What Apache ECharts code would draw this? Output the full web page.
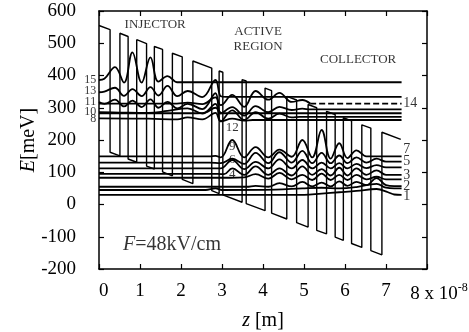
<!DOCTYPE html>
<html>
<head>
<meta charset="utf-8">
<script src="https://cdn.jsdelivr.net/npm/echarts@6/dist/echarts.min.js"></script>
<style>
  html, body { margin: 0; padding: 0; background: #fff; }
  #chart { width: 469px; height: 332px; }
</style>
</head>
<body>
<div id="chart"></div>
<script>
// z in units of 1e-8 m, E in meV

// conduction band corners (barrier tops / well floors)
const bandProfile = [
  [0, 555], [0.27, 542], [0.27, 162], [0.51, 151], [0.51, 531], [0.71, 521],
  [0.71, 141], [0.92, 131], [0.92, 511], [1.16, 499], [1.16, 119], [1.35, 110],
  [1.35, 490], [1.55, 481], [1.55, 101], [1.79, 89], [1.79, 469], [2.03, 458],
  [2.03, 78], [2.29, 65], [2.29, 445], [2.75, 423], [2.75, 43], [2.93, 34],
  [2.93, 414], [3.02, 410], [3.02, 30], [3.49, 7], [3.49, 387], [3.59, 383],
  [3.59, 3], [4.05, -19], [4.05, 361], [4.21, 353], [4.21, -27], [4.58, -45],
  [4.58, 335], [4.82, 324], [4.82, -56], [5.10, -70], [5.10, 310], [5.31, 300],
  [5.31, -80], [5.55, -91], [5.55, 289], [5.76, 279], [5.76, -101], [5.96, -111],
  [5.96, 269], [6.16, 259], [6.16, -121], [6.41, -133], [6.41, 247], [6.63, 237],
  [6.63, -143], [6.90, -156], [6.90, 224], [7.36, 202]
];

// wavefunctions drawn at their level energies
const psi15 = [[0, 386], [0.13, 390], [0.39, 426], [0.61, 378], [0.815, 472], [1.04, 378], [1.255, 456], [1.45, 381], [1.67, 398], [1.91, 379], [2.1, 379], [7.38, 379]];
const psi13 = [[0, 348], [0.13, 350], [0.39, 362], [0.61, 337], [0.815, 358], [1.04, 336], [1.255, 364], [1.45, 338], [1.67, 368], [1.91, 336], [2.16, 352], [2.52, 333], [2.84, 386], [2.97, 336], [3.1, 334], [3.3, 334], [7.38, 334]];
const psi14 = [[0, 313], [1.9, 313], [2.16, 316], [2.52, 311], [2.84, 332], [2.97, 308], [3.25, 340], [3.54, 303], [3.82, 352], [4.13, 325], [4.4, 346], [4.70, 318], [4.96, 324], [5.15, 313]];
const psi14tail = [[5.15, 313], [7.38, 313]];
const psi11 = [[0, 318], [0.13, 312], [0.39, 325], [0.61, 304], [0.815, 322], [1.04, 302], [1.255, 326], [1.45, 300], [1.67, 318], [1.91, 298], [2.16, 312], [2.52, 296], [2.84, 345], [2.97, 282], [3.25, 302], [3.54, 276], [3.82, 305], [4.13, 286], [4.4, 303], [4.70, 293], [4.96, 297], [5.15, 295], [7.38, 295]];
const psi12 = [[0, 283], [2.4, 283], [2.6, 285], [2.84, 300], [3.0, 283], [3.2, 283], [7.38, 283]];
const psi10 = [[0, 286], [0.5, 285], [1.2, 284], [1.67, 290], [2.16, 298], [2.52, 282], [2.84, 312], [2.97, 258], [3.25, 292], [3.54, 262], [3.82, 286], [4.13, 266], [4.4, 282], [4.70, 270], [4.9, 272], [7.38, 272]];
const psi8 = [[0, 267], [1.2, 266], [1.91, 264], [2.16, 270], [2.52, 264], [2.84, 284], [2.97, 258], [3.25, 266], [3.54, 260], [3.75, 262], [7.38, 262]];
const psi7 = [[0, 149], [2.7, 149], [2.84, 151], [2.97, 146], [3.25, 200], [3.54, 146], [3.82, 178], [4.13, 146], [4.4, 170], [4.70, 148], [4.96, 200], [5.2, 146], [5.43, 231], [5.65, 142], [5.86, 190], [6.06, 144], [6.28, 168], [6.52, 149], [6.7, 149], [7.38, 149]];
const psi5 = [[0, 130], [2.7, 130], [2.97, 128], [3.25, 142], [3.54, 126], [3.82, 160], [4.13, 128], [4.4, 162], [4.70, 130], [4.96, 166], [5.2, 128], [5.43, 160], [5.65, 128], [5.86, 152], [6.06, 128], [6.28, 146], [6.52, 130], [6.77, 142], [7.0, 133], [7.38, 133]];
const psi6 = [[0, 112], [2.8, 112], [2.97, 112], [3.25, 138], [3.54, 110], [3.82, 132], [4.13, 112], [4.4, 140], [4.70, 112], [4.96, 138], [5.2, 112], [5.43, 130], [5.65, 112], [5.86, 128], [6.06, 112], [6.28, 126], [6.52, 113], [6.77, 122], [7.0, 115], [7.38, 115]];
const psi3 = [[0, 95], [2.9, 95], [3.05, 94], [3.25, 112], [3.54, 92], [3.82, 118], [4.13, 92], [4.4, 112], [4.70, 90], [4.96, 118], [5.2, 92], [5.43, 110], [5.65, 90], [5.86, 114], [6.06, 90], [6.28, 112], [6.52, 92], [6.77, 106], [7.0, 92], [7.38, 92]];
const psi4 = [[0, 83], [3.2, 83], [3.54, 84], [3.82, 94], [4.13, 80], [4.4, 98], [4.70, 78], [4.96, 92], [5.2, 76], [5.43, 96], [5.65, 76], [5.86, 92], [6.06, 76], [6.28, 92], [6.52, 78], [6.77, 86], [7.0, 78], [7.38, 78]];
const psi2 = [[0, 55], [3.6, 55], [3.82, 58], [4.13, 55], [4.4, 66], [4.70, 56], [4.96, 70], [5.2, 56], [5.43, 68], [5.65, 56], [5.86, 72], [6.06, 58], [6.28, 70], [6.52, 60], [6.77, 82], [7.0, 60], [7.2, 57], [7.38, 57]];
const psi2b = [[0, 45], [2.6, 45], [2.84, 50], [3.0, 45], [4.3, 46], [4.96, 50], [5.43, 52], [5.86, 50], [6.28, 54], [6.77, 64], [7.0, 52], [7.2, 50], [7.38, 50]];
const psi1 = [[0, 30], [5.0, 30], [5.43, 34], [5.86, 38], [6.28, 42], [6.77, 48], [7.05, 38], [7.2, 31], [7.38, 30]];

const solidStates = [psi15, psi13, psi14, psi11, psi12, psi10, psi8, psi7, psi5, psi6, psi3, psi4, psi2, psi2b, psi1];

// level numbers
const leftLabels = ['15', '13', '11', '10', '8'];
const leftLabelsE = [386, 352, 318, 287, 267];
const rightLabels = ['14', '7', '5', '3', '2', '1'];
const rightLabelsE = [314, 172, 133, 92, 55, 24];
const activeLabels = ['12', '9', '6', '4'];
const activeLabelsE = [239, 179, 138, 92];
const regionNames = ['INJECTOR', 'ACTIVE', 'REGION', 'COLLECTOR'];
const regionAnchors = [[1.37, 557], [3.88, 535], [3.88, 491], [6.32, 448]];
const fieldText = '{i|F}=48kV/cm';
const fieldAnchor = [1.78, -125];

const serif = '"Liberation Serif", "Times New Roman", serif';
const black = '#000';

const chart = echarts.init(document.getElementById('chart'));

const labelItems = [];
leftLabels.forEach((t, i) => labelItems.push({ value: [-0.07, leftLabelsE[i]], label: { formatter: t, align: 'right', fontSize: 12 } }));
rightLabels.forEach((t, i) => labelItems.push({ value: [7.42, rightLabelsE[i]], label: { formatter: t, align: 'left', fontSize: 14 } }));
activeLabels.forEach((t, i) => labelItems.push({ value: [3.25, activeLabelsE[i]], label: { formatter: t, fontSize: 13 } }));
regionNames.forEach((t, i) => labelItems.push({ value: regionAnchors[i], label: { formatter: t, fontSize: 13 } }));
labelItems.push({
  value: fieldAnchor,
  label: {
    formatter: fieldText, fontSize: 20,
    rich: { i: { fontStyle: 'italic', fontSize: 20, fontFamily: serif, color: black, textBorderWidth: 0 } }
  }
});

const axisLine = { onZero: false, lineStyle: { color: black, width: 1.5 } };
const axisTick = { inside: true, length: 5, lineStyle: { color: black, width: 1.2 } };

const series = [
  {
    type: 'line',
    data: bandProfile,
    symbol: 'none',
    lineStyle: { color: black, width: 1.4 },
    z: 2
  }
];
solidStates.forEach(d => series.push({
  type: 'line',
  data: d,
  symbol: 'none',
  smooth: 0.4,
  lineStyle: { color: black, width: 1.8 },
  z: 3
}));
series.push({
  type: 'line',
  data: psi14tail,
  symbol: 'none',
  lineStyle: { color: black, width: 1.8, type: [6, 3] },
  z: 3
});
series.push({
  type: 'scatter',
  data: labelItems,
  symbolSize: 0,
  clip: false,
  silent: true,
  itemStyle: { color: black },
  label: {
    show: true, position: 'inside', color: black, fontFamily: serif,
    textBorderWidth: 0, textBorderColor: 'transparent'
  },
  z: 5
});

chart.setOption({
  animation: false,
  backgroundColor: '#fff',
  grid: { left: 99, right: 42, top: 11, bottom: 63, containLabel: false, outerBoundsMode: 'none' },
  xAxis: [
    {
      type: 'value', min: 0, max: 8, interval: 1, position: 'bottom',
      axisLine, axisTick, splitLine: { show: false },
      axisLabel: {
        color: black, fontFamily: serif, fontSize: 19, margin: 13, alignMinLabel: 'left',
        formatter: v => (v === 8 ? '{m|8 x 10}{s|-8}' : String(v)),
        rich: {
          m: { fontFamily: serif, fontSize: 19, color: black, padding: [0, 0, 0, 24] },
          s: { fontFamily: serif, fontSize: 12, color: black, padding: [0, 0, 12, 0] }
        }
      },
      name: '{i|z} [m]', nameLocation: 'middle', nameGap: 42, nameMoveOverlap: false,
      nameTextStyle: { color: black, fontFamily: serif, fontSize: 20, rich: { i: { fontStyle: 'italic', fontFamily: serif, fontSize: 20 } } }
    },
    {
      type: 'value', min: 0, max: 8, interval: 1, position: 'top',
      axisLine, axisTick, splitLine: { show: false }, axisLabel: { show: false }
    }
  ],
  yAxis: [
    {
      type: 'value', min: -200, max: 600, interval: 100, position: 'left',
      axisLine, axisTick, splitLine: { show: false },
      axisLabel: { color: black, fontFamily: serif, fontSize: 19, margin: 23 },
      name: '{i|E}[meV]', nameLocation: 'middle', nameGap: 60, nameMoveOverlap: false,
      nameTextStyle: { color: black, fontFamily: serif, fontSize: 20, rich: { i: { fontStyle: 'italic', fontFamily: serif, fontSize: 20 } } }
    },
    {
      type: 'value', min: -200, max: 600, interval: 100, position: 'right',
      axisLine, axisTick, splitLine: { show: false }, axisLabel: { show: false }
    }
  ],
  series
});
</script>
</body>
</html>
